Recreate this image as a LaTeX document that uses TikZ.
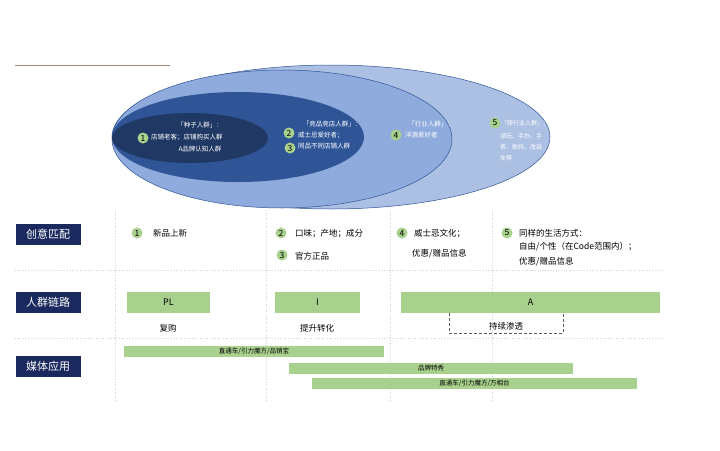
\documentclass[tikz,border=0pt]{standalone}
\usepackage{fontspec}
\setmainfont{Noto Sans CJK SC}
\definecolor{e1}{HTML}{ACC0E4}
\definecolor{e2}{HTML}{8FAADC}
\definecolor{e3}{HTML}{2F5597}
\definecolor{e4}{HTML}{203864}
\definecolor{gr}{HTML}{A9D18E}
\definecolor{navy}{HTML}{1B2A5E}
\definecolor{olive}{HTML}{9C9070}
\begin{document}
\begin{tikzpicture}[x=1pt,y=-1pt,
  wt/.style={text=white,font=\fontsize{6.5}{7}\selectfont,inner sep=0pt},
  st/.style={text=white,font=\fontsize{6}{7}\selectfont,inner sep=0pt,anchor=west},
  num/.style={circle,fill=gr,inner sep=0pt,minimum size=11pt,font=\fontsize{8.5}{8.5}\selectfont},
  lab/.style={fill=navy,text=white,minimum width=65pt,minimum height=21pt,font=\fontsize{11}{11}\selectfont,inner sep=0pt},
  bar/.style={fill=gr,inner sep=0pt,font=\fontsize{9}{9}\selectfont},
  mbar/.style={fill=gr,inner sep=0pt,font=\fontsize{6.5}{7}\selectfont},
  bt/.style={font=\fontsize{8.5}{9}\selectfont,inner sep=0pt,anchor=west},
  grid/.style={gray!35,dotted,line width=0.6pt}]
\useasboundingbox (0,0) rectangle (720,450);
\draw[olive,line width=0.8pt] (15,65) -- (170,65);
\fill[e1,draw=e3,line width=0.5pt] (331,137) ellipse [x radius=219,y radius=72];
\fill[e2,draw=e3,line width=0.5pt] (282,139) ellipse [x radius=170,y radius=69];
\fill[e3] (238,137) ellipse [x radius=126,y radius=45];
\fill[e4] (190,138) ellipse [x radius=78,y radius=25];
% ellipse texts
\node[wt] (t1) at (200,125) {「种子人群」：};
\node[num] (n1) at (143,138) {1};
\node[wt,anchor=west] (t1b) at (151,137) {店铺老客；店铺购买人群};
\node[wt] (t1c) at (200,149) {A品牌认知人群};
\node[wt] (t2) at (332,124) {「竞品竞店人群」：};
\node[num] (n2) at (289,133) {2};
\node[wt,anchor=west] (t2b) at (298,135) {威士忌爱好者；};
\node[num] (n3) at (290,148) {3};
\node[wt,anchor=west] (t3b) at (298,146) {同品不同店铺人群};
\node[wt] (t4) at (431,124) {「行业人群」：};
\node[num] (n4) at (396,135) {4};
\node[wt,anchor=west] (t4b) at (405,135) {洋酒爱好者};
\node[num] (n5) at (495,123) {5};
\node[st] (t5) at (501,123) {「跨行业人群」：};
\node[st] (t5b) at (500,136) {潮玩、手办、手};
\node[st] (t5c) at (500,147) {表、数码、改装};
\node[st] (t5d) at (500,158) {车等};
% grid
\draw[grid] (115,210) -- (115,400);
\draw[grid] (266,210) -- (266,400);
\draw[grid] (390,210) -- (390,400);
\draw[grid] (492,210) -- (492,400);
\draw[grid] (15,270) -- (665,270);
\draw[grid] (15,338) -- (665,338);
% labels
\node[lab] (L1) at (48,234) {创意匹配};
\node[lab] (L2) at (48,302) {人群链路};
\node[lab] (L3) at (48,366) {媒体应用};
% creative row
\node[num] (c1) at (137,233) {1};
\node[bt] (c1t) at (153,233) {新品上新};
\node[num] (c2) at (281,233) {2};
\node[bt] (c2t) at (295,234) {口味；产地；成分};
\node[num] (c3) at (282,255) {3};
\node[bt] (c3t) at (295,256) {官方正品};
\node[num] (c4) at (402,233) {4};
\node[bt] (c4t) at (414,234) {威士忌文化；};
\node[bt] (c4u) at (412,254) {优惠/赠品信息};
\node[num] (c5) at (507,233) {5};
\node[bt] (c5t) at (519,233) {同样的生活方式：};
\node[bt] (c5u) at (519,247) {自由/个性（在Code范围内）；};
\node[bt] (c5v) at (519,262) {优惠/赠品信息};
% chain row
\node[bar,minimum width=83pt,minimum height=21pt] (pl) at (168.5,302.5) {PL};
\node[bar,minimum width=85pt,minimum height=21pt] (ii) at (317.5,302.5) {I};
\node[bar,minimum width=259pt,minimum height=21pt] (aa) at (530.5,302.5) {A};
\node[font=\fontsize{8.5}{9}\selectfont] (fg) at (168,328) {复购};
\node[font=\fontsize{8.5}{9}\selectfont] (ts) at (317,328) {提升转化};
\draw[densely dashed,gray!70!black,line width=0.5pt] (449,313) -- (449,333) -- (563,333) -- (563,313);
\node[font=\fontsize{8.5}{9}\selectfont] (cx) at (506,326) {持续渗透};
% media bars
\node[mbar,minimum width=260pt,minimum height=11pt] (m1) at (254,351.5) {直通车/引力魔方/品销宝};
\node[mbar,minimum width=284pt,minimum height=11pt] (m2) at (431,368.5) {品牌特秀};
\node[mbar,minimum width=325pt,minimum height=11pt] (m3) at (474.5,383.5) {直通车/引力魔方/万相台};
\end{tikzpicture}
\end{document}
